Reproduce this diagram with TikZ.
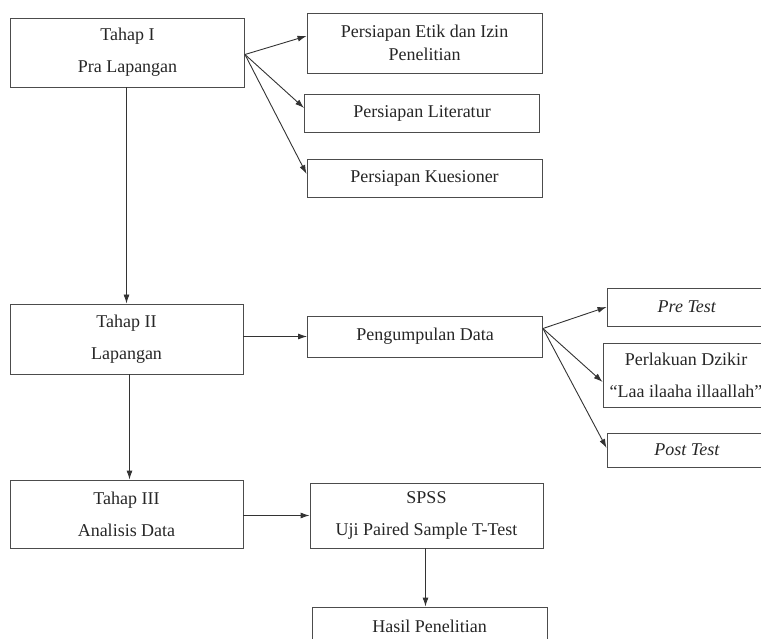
\documentclass[tikz,border=0pt]{standalone}
\usepackage{fontspec}
\setmainfont{Liberation Serif}
\usetikzlibrary{arrows.meta, positioning}

\begin{document}
\begin{tikzpicture} [
    x=1pt, y=-1pt,
    box/.style={rectangle, draw=black!70, line width=0.9pt, text=black!85, align=center, inner sep=2pt, font=\fontsize{18}{32}\selectfont},
    stage/.style={box, minimum width=234pt, minimum height=69pt},
    side/.style={box, minimum width=235pt, minimum height=38pt},
    result/.style={box, minimum width=160pt, minimum height=38pt},
    line/.style={draw=black!80, -{Latex[length=9pt, width=6pt]}, line width=0.9pt}
]
    \useasboundingbox (0,0) rectangle (761,639);
    \clip (0,0) rectangle (761,639);

    % Nodes
    \node[stage] (tahap1) at (127.5,52.5) {Tahap I\\Pra Lapangan};
    \node[side, minimum height=60pt, font=\fontsize{18}{23}\selectfont] (etik) at (424.5,43) {Persiapan Etik dan Izin\\Penelitian};
    \node[side] (literatur) at (422,113) {Persiapan Literatur};
    \node[side] (kuesioner) at (424.5,178) {Persiapan Kuesioner};

    \node[stage, minimum width=233pt, minimum height=70pt] (tahap2) at (126.5,339) {Tahap II\\Lapangan};
    \node[side, minimum height=41pt] (pengumpulan) at (425,336.5) {Pengumpulan Data};
    \node[result] (pretest) at (687,307) {\textit{Pre Test}};
    \node[result, minimum width=166pt, minimum height=64pt] (perlakuan) at (686,375) {Perlakuan Dzikir\\``Laa ilaaha illaallah''};
    \node[result, minimum height=34pt] (posttest) at (687,450) {\textit{Post Test}};

    \node[stage, minimum width=233pt, minimum height=68pt] (tahap3) at (126.5,514) {Tahap III\\Analisis Data};
    \node[side, minimum width=233pt, minimum height=65pt] (spss) at (426.5,515.5) {SPSS\\Uji Paired Sample T-Test};
    \node[side] (hasil) at (429.5,626) {Hasil Penelitian};

    % Arrows
    \path [line] ([yshift=-2pt]tahap1.east) -- ([yshift=7pt]etik.west);
    \path [line] ([yshift=-2pt]tahap1.east) -- ([yshift=5pt]literatur.west);
    \path [line] ([yshift=-2pt]tahap1.east) -- ([yshift=4pt]kuesioner.west);
    \path [line] ([xshift=-1pt]tahap1.south) -- ([xshift=-1pt]tahap1.south |- tahap2.north);
    \path [line] (tahap2.east |- pengumpulan) -- (pengumpulan);
    \path [line] ([yshift=8pt]pengumpulan.east) -- (pretest.west);
    \path [line] ([yshift=8pt]pengumpulan.east) -- ([yshift=-7pt]perlakuan.west);
    \path [line] ([yshift=8pt]pengumpulan.east) -- ([yshift=2pt]posttest.west);
    \path [line] ([xshift=3pt]tahap2.south) -- ([xshift=3pt]tahap2.south |- tahap3.north);
    \path [line] (tahap3.east |- spss) -- (spss);
    \path [line] ([xshift=-1pt]spss.south) -- ([xshift=-1pt]spss.south |- hasil.north);

\end{tikzpicture}
\end{document}
